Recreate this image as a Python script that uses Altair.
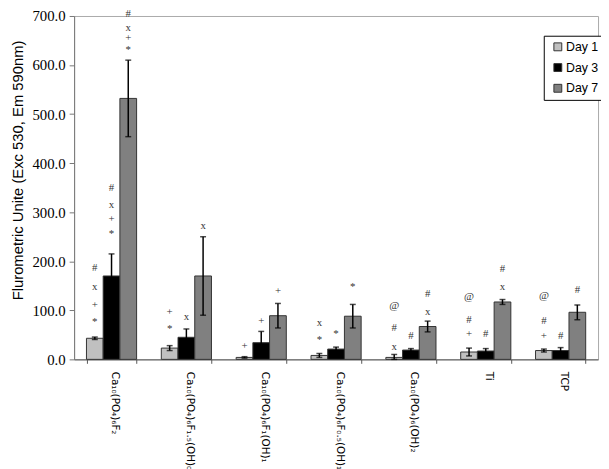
import altair as alt
import pandas as pd

categories = [
    "Ca₁₀(PO₄)₆F₂",
    "Ca₁₀(PO₄)₆F₁.₅(OH)₀.₅",
    "Ca₁₀(PO₄)₆F₁(OH)₁",
    "Ca₁₀(PO₄)₆F₀.₅(OH)₁.₅",
    "Ca₁₀(PO₄)₆(OH)₂",
    "Ti",
    "TCP",
]
days = ["Day 1", "Day 3", "Day 7"]
day1 = [43, 23, 4, 8, 4, 15, 18]
day3 = [170, 45, 34, 21, 19, 17, 18]
day7 = [532, 170, 89, 88, 67, 117, 96]
err1 = [2.5, 5, 1.5, 4, 6, 8, 3]
err3 = [45, 17, 23, 4, 3, 5, 6]
err7 = [78, 80, 25, 24, 11, 5, 15]

# significance symbols above bars
ann_cat = [0, 0, 0, 0, 0, 0, 0, 0, 0, 0, 0, 0,
           1, 1, 1, 1,
           2, 2, 2,
           3, 3, 3, 3,
           4, 4, 4, 4, 4, 4,
           5, 5, 5, 5, 5, 5,
           6, 6, 6, 6, 6]
ann_day = [0, 0, 0, 0, 1, 1, 1, 1, 2, 2, 2, 2,
           0, 0, 1, 2,
           0, 1, 2,
           0, 0, 1, 2,
           0, 0, 0, 1, 2, 2,
           0, 0, 0, 1, 2, 2,
           0, 0, 0, 1, 2]
ann_sym = ["#", "x", "+", "*", "#", "x", "+", "*", "#", "x", "+", "*",
           "+", "*", "x", "x",
           "+", "+", "+",
           "x", "*", "*", "*",
           "@", "#", "x", "#", "#", "x",
           "@", "#", "+", "#", "#", "x",
           "@", "#", "+", "#", "#"]
ann_y = [187, 147, 111, 76, 349, 314, 287, 255, 704, 676, 655, 630,
         96, 62, 86, 272,
         28, 79, 140,
         74, 40, 51, 148,
         108, 64, 26, 48, 133, 97,
         128, 80, 51, 51, 184, 147,
         129, 79, 48, 48, 141]

rows = []
for i, c in enumerate(categories):
    for d, vals, errs in zip(days, [day1, day3, day7], [err1, err3, err7]):
        rows.append(dict(cat=c, day=d, value=vals[i],
                         lo=max(vals[i] - errs[i], 0), hi=vals[i] + errs[i]))
df = pd.DataFrame(rows)

ann = pd.DataFrame(dict(
    cat=[categories[i] for i in ann_cat],
    day=[days[i] for i in ann_day],
    sym=ann_sym,
    y=ann_y,
))

x_enc = alt.X(
    "cat:N", sort=categories,
    scale=alt.Scale(paddingInner=0.33, paddingOuter=0.165),
    axis=alt.Axis(
        title=None, labelAngle=90, labelAlign="left", labelBaseline="middle",
        labelFont="DejaVu Sans", labelFontSize=10.5, labelColor="#000",
        labelPadding=8, labelOffset=3, tickBand="extent", tickSize=4,
        tickColor="#555", domainColor="#555", labelLimit=400,
    ),
)
xo_enc = alt.XOffset("day:N", sort=days,
                     scale=alt.Scale(paddingInner=0, paddingOuter=0))

y_axis = alt.Axis(
    values=[0, 100, 200, 300, 400, 500, 600, 700], format=".1f",
    title="Flurometric Unite (Exc 530, Em 590nm)",
    titleFont="Liberation Sans", titleFontSize=15, titleFontWeight="normal",
    titleColor="#000", titleX=-57, titleY=156, titleBaseline="middle",
    titleAngle=270,
    labelFont="Liberation Serif", labelFontSize=15, labelColor="#000",
    labelPadding=4, tickSize=5, tickColor="#777", domainColor="#777",
    grid=False,
)

bars = alt.Chart(df).mark_bar(stroke="#333", strokeWidth=1).encode(
    x=x_enc,
    xOffset=xo_enc,
    y=alt.Y("value:Q", scale=alt.Scale(domain=[0, 700], nice=False), axis=y_axis),
    color=alt.Color(
        "day:N", sort=days,
        scale=alt.Scale(domain=days, range=["#c0c0c0", "#000000", "#808080"]),
        legend=alt.Legend(
            title=None, orient="none", legendX=476, legendY=20,
            symbolType="square", symbolSize=64, symbolStrokeColor="#333",
            symbolStrokeWidth=1, symbolOffset=3,
            labelFont="Liberation Sans", labelFontSize=12.5, labelColor="#000",
            labelOffset=2, rowPadding=8, padding=5,
            strokeColor="#000", fillColor="#fff",
        ),
    ),
)

rules = alt.Chart(df).mark_rule(color="#000", strokeWidth=1.5).encode(
    x=x_enc, xOffset=xo_enc, y="lo:Q", y2="hi:Q",
)
cap_hi = alt.Chart(df).mark_tick(color="#000", thickness=1.5, size=6).encode(
    x=x_enc, xOffset=xo_enc, y="hi:Q",
)
cap_lo = alt.Chart(df).mark_tick(color="#000", thickness=1.5, size=6).encode(
    x=x_enc, xOffset=xo_enc, y="lo:Q",
)

texts = alt.Chart(ann).mark_text(
    font="Liberation Serif", fontSize=11, color="#333", baseline="middle",
).encode(
    x=x_enc, xOffset=xo_enc, y="y:Q", text="sym:N",
)

chart = alt.layer(bars, rules, cap_hi, cap_lo, texts).properties(
    width=531, height=348,
    padding={"left": 67, "top": 5, "right": 3, "bottom": 108},
    autosize=alt.AutoSizeParams(type="none"),
).configure_view(stroke="#aaa", strokeWidth=1)

chart.save("out.html", embed_options={"renderer": "svg", "actions": False})
